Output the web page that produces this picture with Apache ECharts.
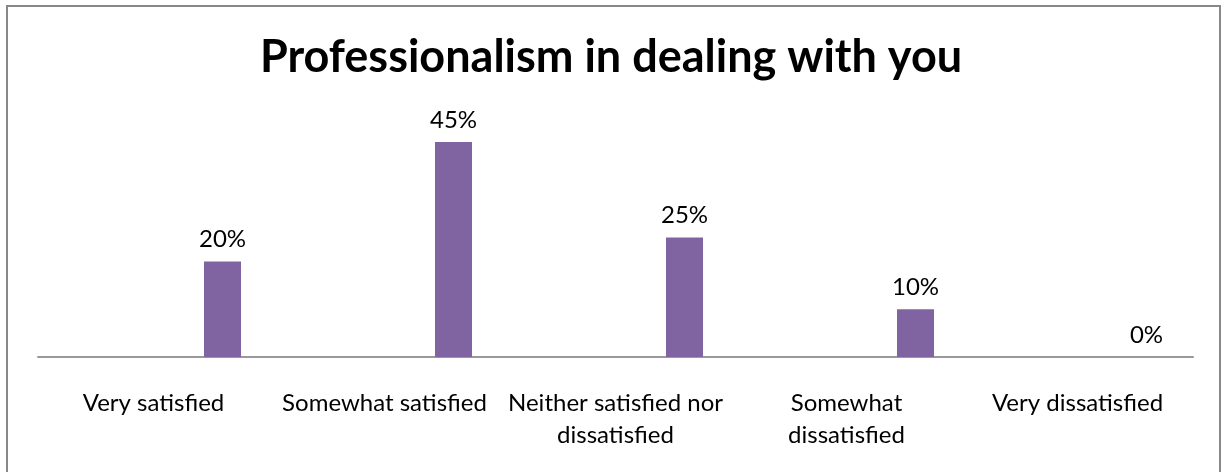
<!DOCTYPE html>
<html>
<head>
<meta charset="utf-8">
<script src="https://cdn.jsdelivr.net/npm/echarts@6/dist/echarts.min.js"></script>
<style>
  html, body { margin: 0; padding: 0; background: #fff; }
  #chart { width: 1222px; height: 472px; }
</style>
</head>
<body>
<div id="chart"></div>
<script>
// Survey responses: share of respondents per rating
const categories = [
  'Very satisfied',
  'Somewhat satisfied',
  'Neither satisfied nor\ndissatisfied',
  'Somewhat\ndissatisfied',
  'Very dissatisfied'
];
const shares = [20, 45, 25, 10, 0];
// Unused companion series slot (keeps the bar to the right of each category)
const emptySlot = [null, null, null, null, null];

const titleText = 'Professionalism in dealing with you';
const fontFamily = 'Lato, "Open Sans", sans-serif';

const chart = echarts.init(document.getElementById('chart'), null, { renderer: 'canvas' });
chart.setOption({
  backgroundColor: '#ffffff',
  animation: false,
  title: {
    text: titleText,
    left: 'center',
    top: 30,
    textStyle: { fontFamily: fontFamily, fontWeight: 'bold', fontSize: 45, color: '#000' }
  },
  graphic: [{
    type: 'rect',
    shape: { x: 7, y: 6, width: 1213, height: 480 },
    style: { fill: 'none', stroke: '#888888', lineWidth: 2 },
    silent: true
  }],
  grid: { left: 38, right: 29, top: 118, bottom: 115 },
  xAxis: {
    type: 'category',
    data: categories,
    axisLine: { show: true, lineStyle: { color: '#999999', width: 2 } },
    axisTick: { show: false },
    axisLabel: {
      interval: 0,
      margin: 30,
      fontFamily: fontFamily,
      fontSize: 24,
      lineHeight: 32,
      color: '#000'
    }
  },
  yAxis: {
    type: 'value',
    min: 0,
    max: 50,
    show: false,
    splitLine: { show: false }
  },
  series: [
    {
      type: 'bar',
      data: emptySlot,
      barWidth: 37,
      barGap: '273%',
      silent: true
    },
    {
      type: 'bar',
      data: shares,
      barWidth: 37,
      barGap: '273%',
      itemStyle: { color: '#8064A2' },
      label: {
        show: true,
        position: 'top',
        distance: 10,
        formatter: p => p.value + '%',
        fontFamily: fontFamily,
        fontSize: 24,
        color: '#000'
      }
    }
  ]
});
</script>
</body>
</html>
